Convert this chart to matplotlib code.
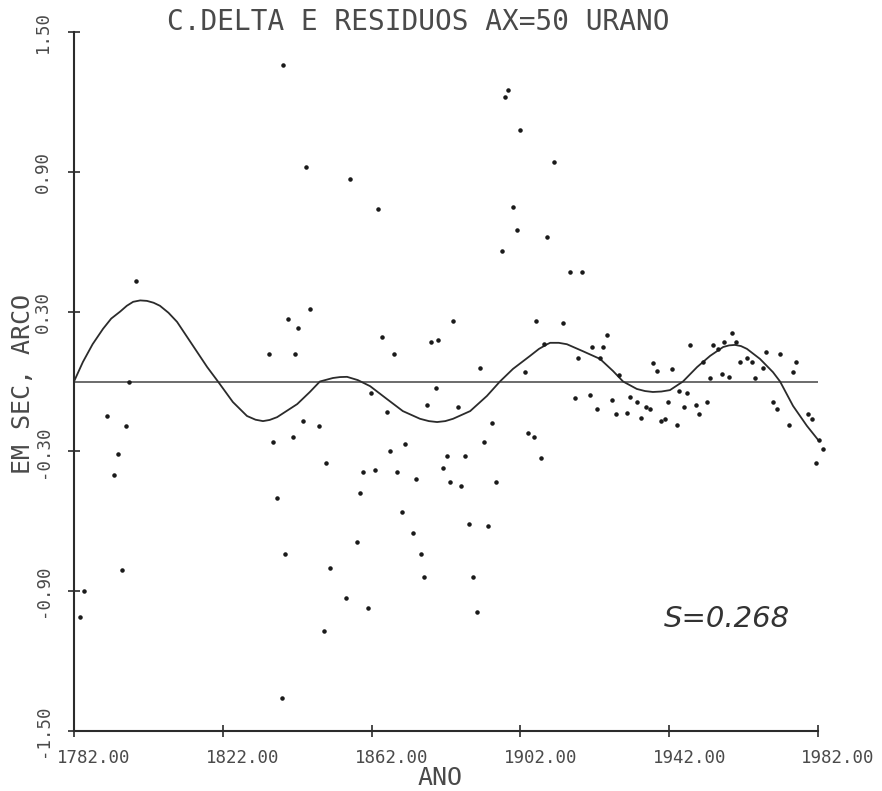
import numpy as np
import matplotlib.pyplot as plt
import matplotlib.transforms as mtransforms

# Residuals of Uranus (arc sec)
res_year = [1783.6, 1784.7, 1790.9, 1792.8, 1793.8, 1794.9, 1796.0, 1796.8, 1798.7,
            1834.4, 1835.5, 1836.6, 1837.9, 1838.2, 1838.7, 1839.5, 1840.9, 1841.4,
            1842.2, 1843.6, 1844.4, 1845.4, 1847.9, 1849.2, 1849.7, 1850.8, 1855.1,
            1856.2, 1858.1, 1858.9, 1859.7, 1861.0, 1861.8, 1862.9, 1863.7, 1864.8,
            1866.1, 1866.9, 1868.0, 1868.8, 1870.2, 1871.0, 1873.1, 1873.9, 1875.3,
            1876.1, 1876.9, 1878.0, 1879.3, 1879.8, 1881.2, 1882.3, 1883.1, 1883.9,
            1885.2, 1886.0, 1887.1, 1888.2, 1889.3, 1890.3, 1891.1, 1892.2, 1893.3,
            1894.4, 1895.4, 1897.0, 1897.9, 1898.7, 1900.0, 1901.1, 1901.9, 1903.2,
            1904.0, 1905.6, 1906.2, 1907.5, 1908.3, 1909.1, 1911.0, 1913.5, 1915.3,
            1916.7, 1917.5, 1918.6, 1920.7, 1921.2, 1922.6, 1923.4, 1924.2, 1925.3,
            1926.6, 1927.7, 1928.5, 1930.7, 1931.5, 1933.3, 1934.4, 1935.7, 1936.8,
            1937.6, 1938.7, 1939.8, 1940.9, 1941.7, 1942.8, 1944.1, 1944.6, 1945.9,
            1946.8, 1947.6, 1949.2, 1950.0, 1951.1, 1952.2, 1953.0, 1953.8, 1955.1,
            1956.2, 1956.7, 1958.1, 1958.9, 1960.0, 1961.0, 1962.9, 1964.3, 1965.1,
            1967.2, 1968.0, 1969.9, 1971.0, 1971.8, 1974.2, 1975.3, 1976.1, 1979.3,
            1980.4, 1981.5, 1982.3, 1983.3]
res_val = [-1.01, -0.90, -0.15, -0.40, -0.31, -0.81, -0.19, 0.00, 0.43,
           0.12, -0.26, -0.50, -1.36, 1.36, -0.74, 0.27, -0.24, 0.12,
           0.23, -0.17, 0.92, 0.31, -0.19, -1.07, -0.35, -0.80, -0.93,
           0.87, -0.69, -0.48, -0.39, -0.97, -0.05, -0.38, 0.74, 0.19,
           -0.13, -0.30, 0.12, -0.39, -0.56, -0.27, -0.65, -0.42, -0.74,
           -0.84, -0.10, 0.17, -0.03, 0.18, -0.37, -0.32, -0.43, 0.26,
           -0.11, -0.45, -0.32, -0.61, -0.84, -0.99, 0.06, -0.26, -0.62,
           -0.18, -0.43, 0.56, 1.22, 1.25, 0.75, 0.65, 1.08, 0.04,
           -0.22, -0.24, 0.26, -0.33, 0.16, 0.62, 0.94, 0.25, 0.47,
           -0.07, 0.10, 0.47, -0.06, 0.15, -0.12, 0.10, 0.15, 0.20,
           -0.08, -0.14, 0.03, -0.135, -0.065, -0.087, -0.155, -0.11, -0.12,
           0.08, 0.047, -0.17, -0.16, -0.09, 0.055, -0.185, -0.04, -0.11,
           -0.05, 0.155, -0.10, -0.14, 0.083, -0.09, 0.013, 0.155, 0.138,
           0.034, 0.168, 0.02, 0.21, 0.168, 0.083, 0.10, 0.083, 0.017,
           0.06, 0.125, -0.09, -0.12, 0.116, -0.185, 0.04, 0.083, -0.14,
           -0.16, -0.35, -0.25, -0.29]

# Fitted curve (C.DELTA)
fit_year = [1782.0, 1784.4, 1787.0, 1789.8, 1792.0, 1794.4, 1796.2, 1797.9, 1799.8,
            1801.6, 1803.4, 1805.1, 1807.4, 1809.7, 1814.0,
            1817.8, 1820.7, 1824.7, 1828.5, 1830.8, 1832.8, 1834.6, 1836.6, 1842.0, 1845.4, 1848.1,
            1851.6, 1853.5, 1855.4, 1858.3, 1861.6, 1866.1, 1870.4, 1875.0, 1877.4, 1879.6, 1881.8, 1883.9,
            1888.5, 1893.0, 1896.5, 1900.0, 1904.6, 1907.0, 1909.2, 1910.0, 1912.3, 1914.5, 1918.8,
            1923.4, 1926.9, 1929.6, 1933.3, 1935.5, 1937.6, 1939.9, 1942.2, 1945.7, 1949.5, 1953.0,
            1956.5, 1958.1, 1959.7, 1961.3, 1962.9, 1966.4, 1969.9, 1971.8, 1975.3, 1979.0, 1982.5]
fit_val = [0.0, 0.084, 0.16, 0.226, 0.27, 0.30, 0.325, 0.342, 0.348,
           0.346, 0.338, 0.325, 0.295, 0.256, 0.153,
           0.062, 0.0, -0.088, -0.148, -0.164, -0.17, -0.165, -0.153, -0.097, -0.045, 0.0,
           0.015, 0.019, 0.02, 0.006, -0.02, -0.075, -0.127, -0.16, -0.170, -0.174, -0.170, -0.16,
           -0.127, -0.062, 0.0, 0.054, 0.11, 0.14, 0.16, 0.166, 0.166, 0.16, 0.13,
           0.097, 0.045, 0.0, -0.032, -0.041, -0.045, -0.043, -0.037, 0.0, 0.062, 0.11,
           0.148, 0.155, 0.157, 0.152, 0.14, 0.097, 0.04, 0.0, -0.105, -0.19, -0.26]

xticks = [1782, 1822, 1862, 1902, 1942, 1982]
xlabels = ['1782.00', '1822.00', '1862.00', '1902.00', '1942.00', '1982.00']
yticks = [-1.5, -0.9, -0.3, 0.3, 0.9, 1.5]
ylabels = ['-1.50', '-0.90', '-0.30', '0.30', '0.90', '1.50']

ink = '#2b2b2b'
faint = '#4a4a4a'
mono = 'DejaVu Sans Mono'

fig = plt.figure(figsize=(8.82, 7.91), dpi=100)
ax = fig.add_axes([74 / 882, 60 / 791, 744 / 882, 699 / 791])

#zero line, fitted curve and residual points
ax.axhline(0, color='#444444', lw=1.1, zorder=1)
ax.plot(fit_year, fit_val, color=ink, lw=1.3, zorder=2)
ax.scatter(res_year, res_val, s=5, color='#1a1a1a', zorder=3, clip_on=False)

ax.set_xlim(1782, 1982)
ax.set_ylim(-1.5, 1.5)

for side in ['top', 'right']:
    ax.spines[side].set_visible(False)
for side in ['left', 'bottom']:
    ax.spines[side].set_color(ink)
    ax.spines[side].set_linewidth(1.5)

ax.set_xticks(xticks)
ax.set_xticklabels(xlabels, family=mono, fontsize=12.5, color=faint)
ax.set_yticks(yticks)
ax.set_yticklabels(ylabels, family=mono, fontsize=12.5, color=faint,
                   rotation=90, va='center')
ax.tick_params(direction='inout', length=8, width=1.2, color=ink)
ax.tick_params(axis='x', pad=9)
ax.tick_params(axis='y', pad=12)

#printer put the year labels a bit to the right of their ticks
shift = mtransforms.ScaledTranslation(0.2, 0, fig.dpi_scale_trans)
for lab in ax.get_xticklabels():
    lab.set_transform(lab.get_transform() + shift)

fig.text(418 / 882, 1 - 22 / 791, 'C.DELTA E RESIDUOS AX=50 URANO', family=mono,
         fontsize=20, color=faint, ha='center', va='center')
fig.text(440 / 882, 1 - 778 / 791, 'ANO', family=mono, fontsize=18,
         color=faint, ha='center', va='center')
fig.text(23 / 882, 1 - 384 / 791, 'EM SEC, ARCO', family=mono, fontsize=18,
         color=faint, ha='center', va='center', rotation=90)

#handwritten standard deviation note
ax.text(1940.5, -1.02, 'S=0.268', fontsize=21, style='italic', color='#333333',
        ha='left', va='center')

fig.savefig('out.png', dpi=100, facecolor='white')
